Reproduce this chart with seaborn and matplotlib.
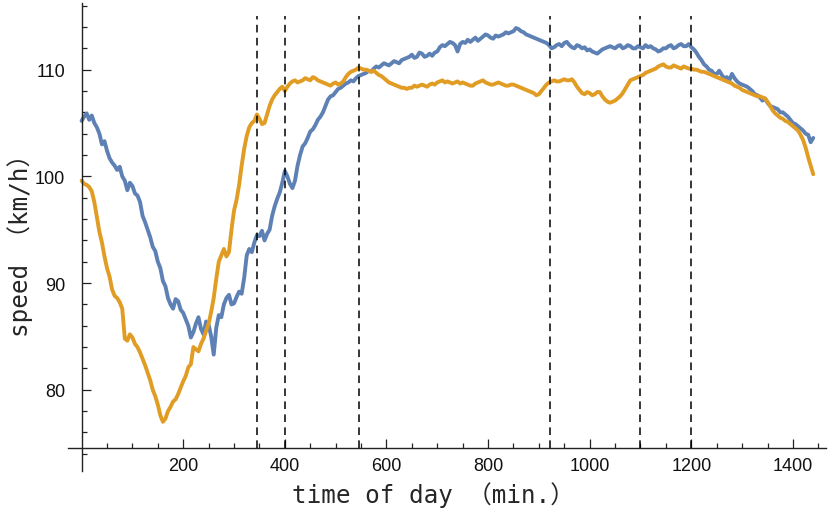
import matplotlib
matplotlib.use('agg')

import pandas as pd
import seaborn as sns
import matplotlib.pyplot as plt
from matplotlib.ticker import FixedLocator

sns.set_style('white')
plt.rcParams['font.family'] = ['Liberation Sans', 'DejaVu Sans']

# speeds every 5 minutes of the day
minutes = list(range(0, 1441, 5))

speed_blue = [
    105.2, 105.6, 105.9, 105.3, 105.7, 105.0, 104.6, 104.0, 103.0, 103.3,
    102.4, 101.7, 101.3, 101.0, 100.6, 100.9, 100.0, 99.6, 98.7, 99.4,
    99.1, 98.4, 98.2, 97.6, 96.3, 95.7, 95.0, 94.3, 93.4, 93.0,
    92.0, 91.4, 90.2, 89.7, 88.6, 88.0, 87.6, 88.5, 88.3, 87.5,
    87.2, 86.6, 86.0, 84.9, 85.4, 86.2, 86.8, 85.7, 85.2, 86.4,
    86.1, 85.0, 83.3, 85.8, 87.0, 86.8, 88.0, 88.6, 88.9, 88.0,
    88.1, 88.7, 89.2, 89.0, 90.5, 92.6, 93.2, 92.9, 93.8, 94.5,
    94.4, 94.9, 94.0, 94.6, 95.0, 96.3, 97.2, 97.9, 98.5, 99.4,
    100.5, 100.0, 99.3, 98.9, 99.6, 101.0, 102.0, 102.8, 103.1, 103.6,
    104.2, 104.4, 104.8, 105.3, 105.6, 106.0, 106.6, 107.2, 107.5, 107.6,
    107.9, 108.2, 108.3, 108.5, 108.7, 108.8, 109.0, 108.9, 109.2, 109.4,
    109.5, 109.6, 109.7, 109.9, 109.8, 110.1, 110.3, 110.2, 110.4, 110.6,
    110.5, 110.4, 110.6, 110.8, 110.7, 110.6, 110.9, 111.0, 111.1, 111.2,
    111.4, 111.1, 111.2, 111.6, 111.5, 111.2, 111.3, 111.5, 111.3, 111.6,
    111.7, 112.1, 112.3, 112.2, 112.4, 112.6, 112.5, 112.3, 111.7, 112.4,
    112.6, 112.5, 112.8, 112.6, 112.8, 113.0, 112.7, 112.9, 113.1, 113.3,
    113.2, 113.0, 112.9, 113.2, 113.1, 113.2, 113.3, 113.5, 113.4, 113.5,
    113.6, 113.9, 113.8, 113.6, 113.5, 113.3, 113.2, 113.1, 113.0, 112.9,
    112.8, 112.7, 112.6, 112.5, 112.3, 112.0, 112.1, 112.3, 112.4, 112.2,
    112.5, 112.6, 112.3, 112.1, 112.0, 112.3, 112.2, 112.0, 112.1, 111.8,
    111.9, 111.7, 111.6, 111.5, 111.7, 111.9, 112.0, 112.1, 112.2, 112.1,
    112.0, 112.2, 112.3, 112.0, 112.1, 112.3, 112.2, 112.0, 112.0, 112.2,
    112.1, 112.0, 112.3, 112.1, 112.2, 112.0, 111.9, 111.7, 111.8, 112.0,
    112.0, 112.2, 112.3, 112.0, 112.1, 112.3, 112.4, 112.2, 112.2, 112.4,
    112.1, 111.9, 111.6, 111.2, 110.9, 110.5, 110.3, 110.0, 109.9, 109.6,
    109.6, 109.9, 109.5, 109.2, 109.3, 109.0, 109.6, 109.2, 108.9, 108.7,
    108.6, 108.5, 108.4, 108.2, 108.0, 107.7, 107.6, 107.4, 107.1, 107.3,
    106.9, 106.6, 106.5, 106.4, 106.3, 106.0, 106.0, 105.8, 105.6, 105.3,
    105.0, 104.9, 104.7, 104.5, 104.3, 104.0, 103.9, 103.2, 103.6,
]

speed_orange = [
    99.6, 99.3, 99.2, 99.0, 98.6, 97.6, 96.2, 94.8, 93.8, 92.5,
    91.4, 90.6, 89.4, 88.8, 88.6, 88.2, 87.6, 84.8, 84.6, 85.2,
    84.9, 84.3, 84.0, 83.5, 82.9, 82.3, 81.6, 80.9, 80.0, 79.4,
    78.6, 77.6, 77.0, 77.3, 78.0, 78.4, 78.9, 79.1, 79.6, 80.2,
    80.8, 81.3, 82.1, 82.4, 84.0, 83.8, 83.6, 84.3, 84.8, 85.5,
    86.2, 87.3, 88.6, 90.4, 92.0, 92.6, 93.2, 92.5, 92.9, 95.0,
    96.8, 97.8, 99.2, 101.0, 102.6, 103.8, 104.6, 105.0, 105.2, 105.8,
    105.4, 104.9, 105.0, 105.8, 106.6, 107.2, 107.6, 107.9, 108.2, 108.4,
    108.0, 108.4, 108.7, 108.9, 109.0, 108.8, 108.9, 109.0, 109.2, 109.1,
    109.0, 109.3, 109.2, 109.0, 108.9, 108.8, 108.7, 108.6, 108.5, 108.7,
    108.8, 108.6, 108.7, 108.9, 109.3, 109.6, 109.8, 109.9, 110.0, 110.2,
    110.1, 110.0, 110.0, 109.9, 109.8, 109.9, 109.7, 109.5, 109.4, 109.2,
    109.0, 108.8, 108.7, 108.6, 108.5, 108.4, 108.3, 108.3, 108.2, 108.3,
    108.3, 108.5, 108.4, 108.5, 108.6, 108.5, 108.4, 108.6, 108.7, 108.6,
    108.8, 108.9, 109.0, 108.8, 108.9, 108.8, 108.7, 108.8, 108.9, 108.7,
    108.8, 108.7, 108.6, 108.5, 108.5, 108.7, 108.8, 108.9, 109.0, 108.8,
    108.7, 108.6, 108.6, 108.7, 108.8, 108.7, 108.6, 108.5, 108.5, 108.6,
    108.6, 108.5, 108.4, 108.3, 108.2, 108.1, 108.0, 107.9, 107.8, 107.6,
    107.7, 108.0, 108.3, 108.6, 108.8, 108.9, 109.0, 108.9, 108.9, 109.0,
    109.1, 109.0, 109.0, 109.1, 108.8, 108.4, 108.1, 107.8, 107.7, 107.9,
    107.8, 107.6, 107.7, 107.9, 107.9, 107.5, 107.2, 107.0, 106.9, 107.0,
    107.1, 107.3, 107.5, 107.8, 108.2, 108.6, 109.0, 109.1, 109.2, 109.3,
    109.4, 109.5, 109.7, 109.8, 109.9, 110.0, 110.1, 110.3, 110.4, 110.5,
    110.3, 110.2, 110.2, 110.4, 110.3, 110.2, 110.1, 110.3, 110.2, 110.1,
    110.1, 110.0, 110.0, 109.9, 109.8, 109.8, 109.7, 109.6, 109.5, 109.4,
    109.3, 109.2, 109.1, 109.0, 108.9, 108.8, 108.7, 108.5, 108.4, 108.3,
    108.1, 108.0, 107.9, 107.8, 107.7, 107.6, 107.5, 107.5, 107.4, 107.3,
    107.0, 106.6, 106.2, 105.9, 105.7, 105.5, 105.4, 105.2, 105.1, 104.9,
    104.7, 104.5, 104.3, 103.9, 103.4, 102.7, 101.8, 101.0, 100.2,
]

event_minutes = [345, 400, 545, 922, 1100, 1200]

df = pd.DataFrame({
    'minute': minutes * 2,
    'speed': speed_blue + speed_orange,
    'series': ['blue'] * len(minutes) + ['orange'] * len(minutes),
})

fig = plt.figure(figsize=(8.3, 5.1), dpi=100)
ax = fig.add_axes([0.0818, 0.0747, 0.9133, 0.9165])

sns.lineplot(data=df, x='minute', y='speed', hue='series',
             palette={'blue': '#5e81b5', 'orange': '#e19c24'},
             lw=2.8, legend=False, ax=ax, zorder=2)

ax.vlines(event_minutes, 74.5, 115, colors='black', lw=1.1,
          linestyles=(0, (5, 3.5)), zorder=5)

ax.set_xlim(-27, 1465)
ax.set_ylim(72.4, 116.2)

for side in ['top', 'right']:
    ax.spines[side].set_visible(False)
ax.spines['left'].set_position(('data', 0))
ax.spines['bottom'].set_position(('data', 74.5))
for side in ['left', 'bottom']:
    ax.spines[side].set_linewidth(1.0)
    ax.spines[side].set_color('#222222')

ax.xaxis.set_major_locator(FixedLocator([200, 400, 600, 800, 1000, 1200, 1400]))
ax.xaxis.set_minor_locator(FixedLocator(list(range(50, 1451, 50))))
ax.yaxis.set_major_locator(FixedLocator([80, 90, 100, 110]))
ax.yaxis.set_minor_locator(FixedLocator(list(range(74, 117, 2))))

ax.tick_params(which='both', direction='in', color='#222222', width=0.9,
               labelsize=13, labelcolor='#111111', bottom=True, left=True)
ax.tick_params(which='major', length=6.5)
ax.tick_params(which='minor', length=3.5)
ax.tick_params(axis='y', which='major', pad=12)
ax.tick_params(axis='x', which='major', pad=6)

ax.set_xlabel('')
ax.set_ylabel('')
label_font = ['DejaVu Sans Mono', 'Noto Sans CJK JP']
fig.text(0.522, 0.029, 'time of day （min.）', ha='center', va='center',
         fontsize=17.5, family=label_font)
fig.text(0.024, 0.53, 'speed （km/h）', ha='center', va='center',
         rotation=90, fontsize=17.5, family=label_font)

fig.savefig('out.png', dpi=100)
